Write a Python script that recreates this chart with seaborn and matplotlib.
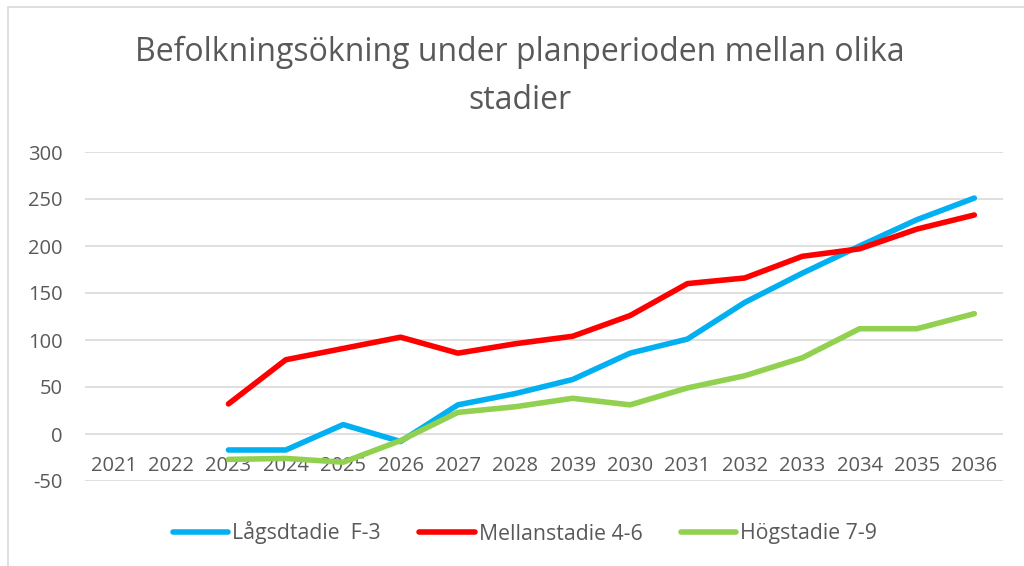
import numpy as np
import pandas as pd
import seaborn as sns
import matplotlib.pyplot as plt
from matplotlib.lines import Line2D

years = ["2021", "2022", "2023", "2024", "2025", "2026", "2027", "2028", "2039",
         "2030", "2031", "2032", "2033", "2034", "2035", "2036"]
lagstadie = [np.nan, np.nan, -17, -17, 10, -8, 31, 43, 58, 86, 101, 140, 171, 200, 228, 251]
mellanstadie = [np.nan, np.nan, 32, 79, 91, 103, 86, 96, 104, 126, 160, 166, 189, 197, 218, 233]
hogstadie = [np.nan, np.nan, -27, -26, -30, -7, 23, 29, 38, 31, 49, 62, 81, 112, 112, 128]
series_names = ["Lågsdtadie  F-3", "Mellanstadie 4-6", "Högstadie 7-9"]
colors = ["#00B0F0", "#FF0000", "#92D050"]
yticks = [-50, 0, 50, 100, 150, 200, 250, 300]
title = "Befolkningsökning under planperioden mellan olika\nstadier"

rows = []
for name, vals in zip(series_names, [lagstadie, mellanstadie, hogstadie]):
    for i, v in enumerate(vals):
        rows.append({"idx": i, "value": v, "serie": name})
df = pd.DataFrame(rows)

sns.set_theme(style="white")
plt.rcParams['font.family'] = ['Open Sans', 'DejaVu Sans']
txt = "#595959"
fs = 14.5

fig = plt.figure(figsize=(10.24, 5.66), dpi=100)
ax = fig.add_axes([85/1024, 1-481/566, (1003-85)/1024, (481-152)/566])

sns.lineplot(data=df, x="idx", y="value", hue="serie", palette=colors,
             hue_order=series_names, linewidth=4, ax=ax, legend=False,
             solid_capstyle="round", estimator=None, sort=False)

ax.spines["bottom"].set_position(("data", 0))
for s in ax.spines.values():
    s.set_visible(False)
ax.set_xlim(-0.5, len(years) - 0.5)
ax.set_ylim(-50, 300)
ax.set_yticks(yticks)
ax.set_yticklabels([str(t) for t in yticks])
ax.yaxis.grid(True, color="#D9D9D9", linewidth=1.2)
ax.set_axisbelow(True)
ax.set_xticks(range(len(years)))
ax.set_xticklabels(years)
ax.tick_params(axis="both", length=0, labelsize=fs, labelcolor=txt)
ax.tick_params(axis="y", pad=16)
ax.tick_params(axis="x", pad=16)
ax.set_xlabel("")
ax.set_ylabel("")

fig.text(520/1024, 1-76/566, title, ha="center", va="center", fontsize=23,
         color=txt, linespacing=1.6)

handles = [Line2D([0], [0], color=c, linewidth=4, solid_capstyle="round") for c in colors]
fig.legend(handles, series_names, loc="center", bbox_to_anchor=(525/1024, 1-533/566),
           ncol=3, frameon=False, fontsize=15.3, labelcolor=txt, handlelength=2.6,
           handletextpad=0.2, columnspacing=1.8)

fig.add_artist(Line2D([8/1024, 8/1024], [0, 1-7/566], transform=fig.transFigure,
                      color="#D9D9D9", linewidth=1.2))
fig.add_artist(Line2D([8/1024, 1], [1-7/566, 1-7/566], transform=fig.transFigure,
                      color="#D9D9D9", linewidth=1.2))

fig.savefig("out.png", dpi=100, facecolor="white")
